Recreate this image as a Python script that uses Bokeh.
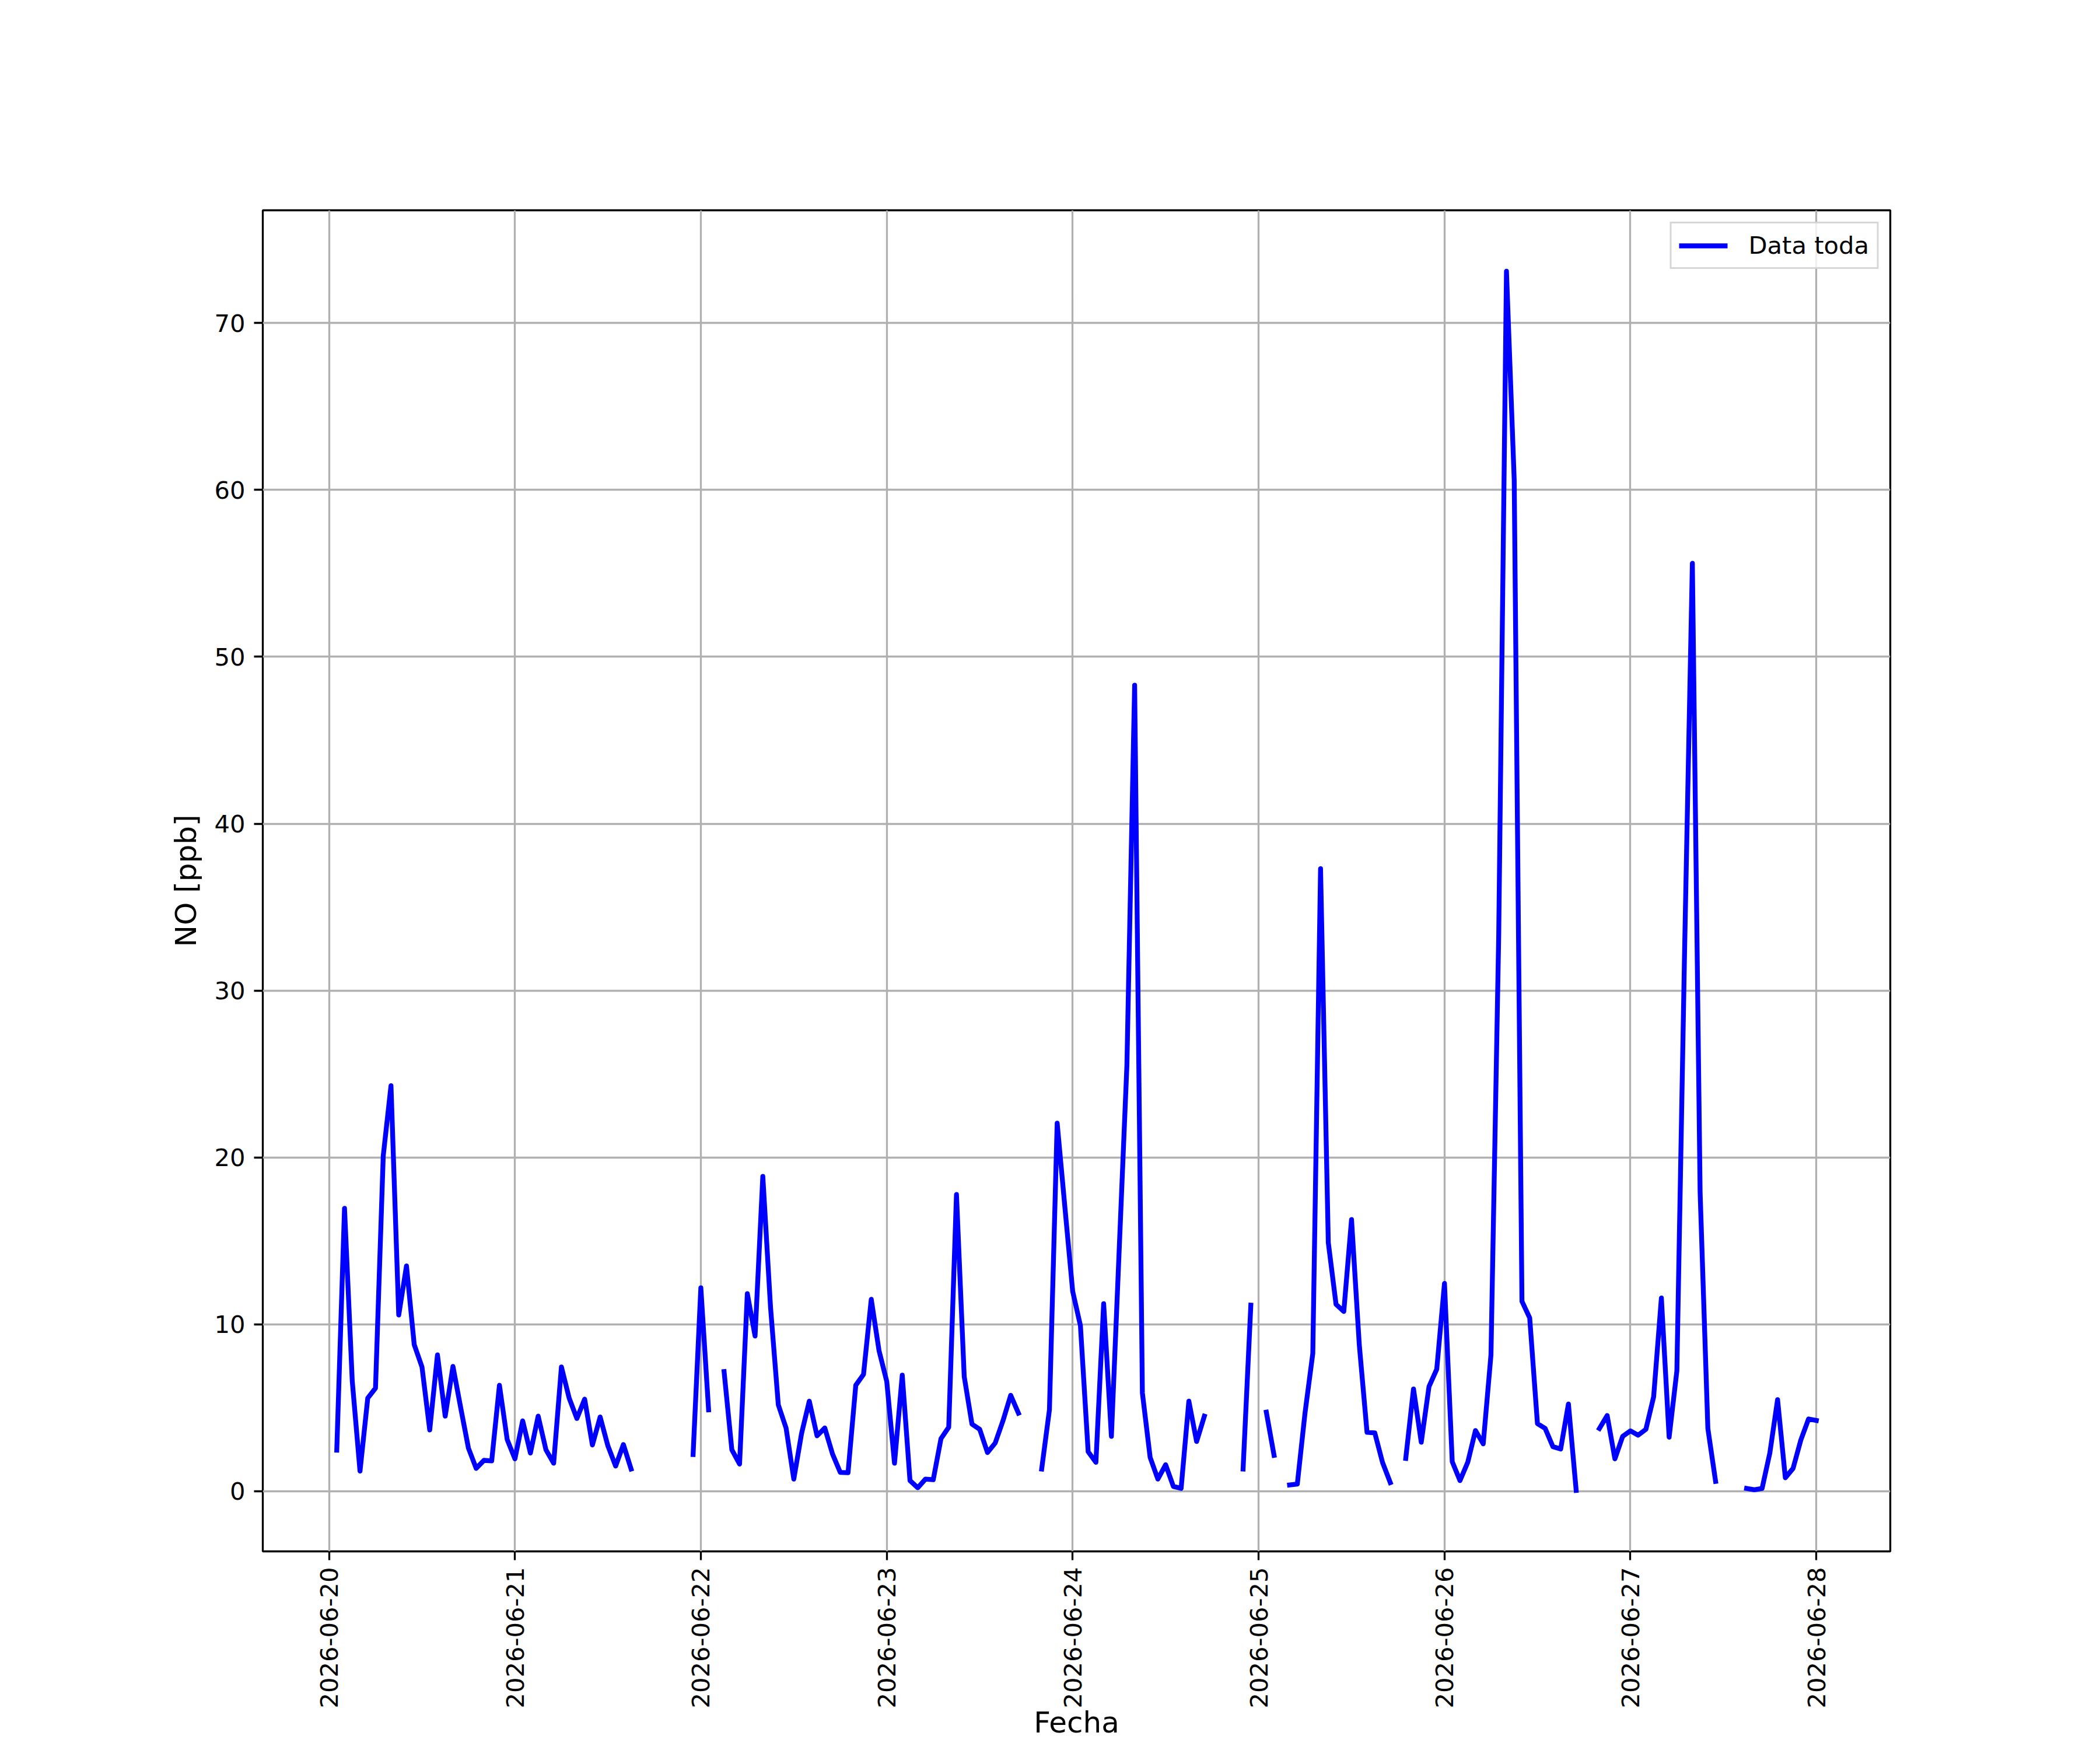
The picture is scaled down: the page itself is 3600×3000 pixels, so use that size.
import numpy as np
import pandas as pd
from math import pi
from bokeh.plotting import figure
from bokeh.models import Range1d, FixedTicker, DatetimeTickFormatter
from bokeh.embed import file_html
from bokeh.resources import INLINE

nan = np.nan

# hourly NO [ppb]; series starts 2026-06-20 01:00
start_time = "2026-06-20 01:00"
no_0620 = [2.46, 16.95, 6.6, 1.21, 5.58, 6.18, 20.1, 24.3, 10.56, 13.5, 8.78, 7.45,
           3.67, 8.17, 4.5, 7.48, 5.0, 2.58, 1.37, 1.85, 1.82, 6.35, 3.1]          # 01h-23h
no_0621 = [1.94, 4.22, 2.29, 4.5, 2.49, 1.68, 7.45, 5.58, 4.36, 5.52, 2.77, 4.45,
           2.72, 1.51, 2.8, 1.33, nan, nan, nan, nan, nan, nan, nan, 2.2]
no_0622 = [12.19, 4.88, nan, 7.17, 2.49, 1.63, 11.84, 9.3, 18.87, 11.0, 5.18, 3.79,
           0.73, 3.46, 5.4, 3.32, 3.79, 2.23, 1.13, 1.11, 6.35, 7.0, 11.5, 8.43]
no_0623 = [6.58, 1.68, 6.96, 0.64, 0.21, 0.73, 0.69, 3.15, 3.84, 17.78, 6.87, 4.02,
           3.71, 2.32, 2.89, 4.22, 5.75, 4.68, nan, nan, 1.33, 4.88, 22.06, 17.0]
no_0624 = [11.98, 9.93, 2.37, 1.73, 11.24, 3.29, 14.4, 25.5, 48.3, 5.89, 2.03, 0.73,
           1.59, 0.29, 0.17, 5.4, 2.98, 4.5, nan, nan, nan, nan, 1.33, 11.15]
no_0625 = [nan, 4.74, 2.15, nan, 0.38, 0.43, 4.71, 8.26, 37.3, 14.9, 11.2, 10.77,
           16.28, 8.78, 3.53, 3.5, 1.73, 0.52, nan, 1.97, 6.13, 2.94, 6.27, 7.31]
no_0626 = [12.45, 1.77, 0.64, 1.73, 3.64, 2.84, 8.17, 33.3, 73.1, 60.6, 11.38, 10.39,
           4.05, 3.76, 2.67, 2.53, 5.23, 0.05, nan, nan, 3.76, 4.54, 1.94, 3.29]
no_0627 = [3.62, 3.36, 3.71, 5.66, 11.58, 3.24, 7.22, 32.5, 55.6, 17.9, 3.76, 0.59,
           nan, nan, nan, 0.17, 0.09, 0.17, 2.29, 5.49, 0.81, 1.37, 3.07, 4.33]
no_0628 = [4.24]

tick_days = ["2026-06-20", "2026-06-21", "2026-06-22", "2026-06-23", "2026-06-24",
             "2026-06-25", "2026-06-26", "2026-06-27", "2026-06-28"]
y_ticks = [0, 10, 20, 30, 40, 50, 60, 70]
series_label = "Data toda"
x_label = "Fecha"
y_label = "NO [ppb]"

values = np.array(no_0620 + no_0621 + no_0622 + no_0623 + no_0624 + no_0625 +
                  no_0626 + no_0627 + no_0628, dtype=float)
times = pd.date_range(start_time, periods=len(values), freq="h")

t0, t1 = times[0], times[-1]
tpad = (t1 - t0) * 0.05
ymin, ymax = np.nanmin(values), np.nanmax(values)
ypad = (ymax - ymin) * 0.05

FONT = "DejaVu Sans"
TICK_PX = "41.67px"
LABEL_PX = "50px"

p = figure(width=3584, height=2984, x_axis_type="datetime",
           output_backend="svg", toolbar_location=None,
           x_range=Range1d((t0 - tpad).to_pydatetime(), (t1 + tpad).to_pydatetime()),
           y_range=Range1d(ymin - ypad, ymax + ypad),
           min_border_left=450, min_border_right=344,
           min_border_top=360, min_border_bottom=313)

p.background_fill_color = "white"
p.border_fill_color = "white"
p.outline_line_color = "black"
p.outline_line_width = 3.3

xt = [pd.Timestamp(d).value / 1e6 for d in tick_days]
p.xaxis.ticker = FixedTicker(ticks=xt)
p.xgrid.ticker = FixedTicker(ticks=xt)
p.yaxis.ticker = FixedTicker(ticks=y_ticks)
p.ygrid.ticker = FixedTicker(ticks=y_ticks)

fmt = "%Y-%m-%d"
p.xaxis.formatter = DatetimeTickFormatter(
    microseconds=fmt, milliseconds=fmt, seconds=fmt, minsec=fmt, minutes=fmt,
    hourmin=fmt, hours=fmt, days=fmt, months=fmt, years=fmt)
p.xaxis.major_label_orientation = pi / 2

for ax in (p.xaxis, p.yaxis):
    ax.axis_line_color = None
    ax.major_tick_out = 15
    ax.major_tick_in = 0
    ax.major_tick_line_width = 3.3
    ax.major_tick_line_color = "black"
    ax.minor_tick_line_color = None
    ax.major_label_text_font = FONT
    ax.major_label_text_font_size = TICK_PX
    ax.major_label_text_color = "black"
    ax.axis_label_text_font = FONT
    ax.axis_label_text_font_size = LABEL_PX
    ax.axis_label_text_font_style = "normal"
    ax.axis_label_text_color = "black"

p.xaxis.major_label_standoff = 12
p.xaxis.axis_label = x_label
p.xaxis.axis_label_standoff = -8
p.yaxis.major_label_standoff = 15
p.yaxis.axis_label = y_label
p.yaxis.axis_label_standoff = 16

for g in (p.xgrid, p.ygrid):
    g.grid_line_color = "#b0b0b0"
    g.grid_line_width = 3.3

p.line(times, values, line_color="blue", line_width=8.3, line_join="round",
       line_cap="square", legend_label=series_label)

lg = p.legend[0]
lg.location = "top_right"
lg.margin = 20
lg.padding = 13
lg.spacing = 0
lg.glyph_width = 83
lg.glyph_height = 40
lg.label_height = 40
lg.label_standoff = 36
lg.label_text_font = FONT
lg.label_text_font_size = TICK_PX
lg.label_text_color = "black"
lg.border_line_color = "#cccccc"
lg.border_line_alpha = 0.8
lg.border_line_width = 3
lg.background_fill_color = "white"
lg.background_fill_alpha = 0.8

open("out.html", "w").write(file_html(p, INLINE))
